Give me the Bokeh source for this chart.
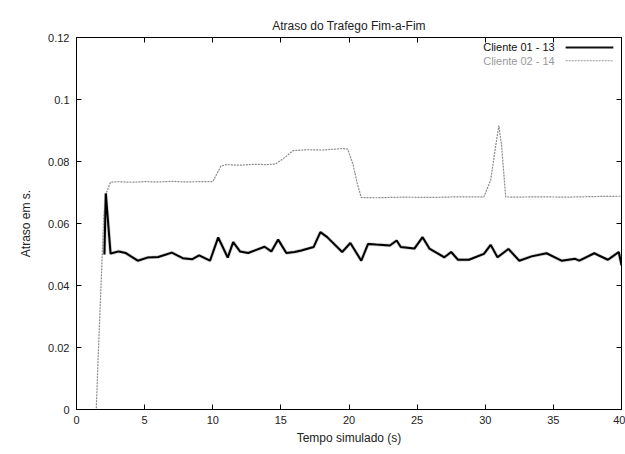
from bokeh.plotting import figure
from bokeh.models import Range1d, FixedTicker, LinearAxis, Label, Arrow
from bokeh.embed import file_html
from bokeh.resources import INLINE

# End-to-end delay per client pair (seconds) over simulated time
t_c2 = [0, 1.45, 1.6, 1.8, 2.0, 2.2, 2.5, 3, 4, 5, 6, 7, 8, 9, 10, 10.3, 10.6, 11, 12, 13, 14,
        14.6, 15.2, 15.9, 17, 18, 19, 19.5, 19.9, 20.3, 20.6, 20.9, 22, 24, 26, 28, 29.9,
        30.4, 30.8, 31.0, 31.2, 31.5, 32, 34, 36, 38, 40]
d_c2 = [0, 0, 0.018, 0.040, 0.062, 0.070, 0.0733, 0.0735, 0.0733, 0.0735, 0.0734, 0.0736,
        0.0734, 0.0735, 0.0735, 0.076, 0.0785, 0.079, 0.0788, 0.0791, 0.079, 0.0792, 0.081,
        0.0835, 0.0838, 0.0837, 0.084, 0.0842, 0.084, 0.079, 0.073, 0.0684, 0.0683, 0.0685,
        0.0684, 0.0686, 0.0686, 0.074, 0.086, 0.0916, 0.085, 0.0686, 0.0685, 0.0686, 0.0685,
        0.0687, 0.0688]

t_c1 = [2.05, 2.15, 2.5, 3.1, 3.6, 4.5, 5.2, 6, 7, 7.8, 8.5, 9.0, 9.8, 10.4,
        11.1, 11.5, 12, 12.6, 13.2, 13.8, 14.3, 14.8, 15.4, 16.0, 16.5, 17.4, 17.9, 18.4,
        19.5, 20.1, 20.9, 21.4, 22, 23, 23.5, 23.8, 24.8, 25.4, 25.9, 27, 27.5, 28, 28.8,
        29.9, 30.4, 30.9, 31.7, 32.5, 33.4, 34.5, 35.6, 36.6, 36.9, 38, 39, 39.8, 40]
d_c1 = [0.050, 0.0697, 0.0503, 0.051, 0.0505, 0.048, 0.049, 0.0492, 0.0506,
        0.0488, 0.0485, 0.0497, 0.048, 0.0555, 0.049, 0.054, 0.051, 0.0505, 0.0515, 0.0525,
        0.051, 0.0548, 0.0505, 0.0508, 0.0513, 0.0524, 0.0572, 0.0556, 0.0508, 0.0537,
        0.048, 0.0534, 0.0532, 0.0529, 0.0545, 0.0524, 0.0519, 0.0556, 0.0519, 0.0491,
        0.0508, 0.0483, 0.0483, 0.0502, 0.0531, 0.0491, 0.0518, 0.048, 0.0494, 0.0504,
        0.048, 0.0486, 0.048, 0.0504, 0.0483, 0.0508, 0.0465]

x_ticks = [0, 5, 10, 15, 20, 25, 30, 35, 40]
y_ticks = [0, 0.02, 0.04, 0.06, 0.08, 0.1, 0.12]
y_tick_labels = ["0", "0.02", "0.04", "0.06", "0.08", "0.1", "0.12"]

series_names = ["Cliente 01 - 13", "Cliente 02 - 14"]

FONT = "Liberation Sans"

p = figure(width=625, height=454, output_backend="svg", toolbar_location=None,
           x_range=Range1d(0, 40), y_range=Range1d(0, 0.12),
           title="Atraso do Trafego Fim-a-Fim",
           min_border_left=76, min_border_right=4, min_border_top=37, min_border_bottom=45)

p.title.align = "center"
p.title.text_font = FONT
p.title.text_font_size = "12px"
p.title.text_font_style = "normal"
p.title.text_color = "#222222"

p.grid.visible = False
p.outline_line_color = "black"
p.outline_line_width = 1
p.background_fill_color = "white"
p.border_fill_color = "white"

p.xaxis.ticker = FixedTicker(ticks=x_ticks)
p.yaxis.ticker = FixedTicker(ticks=y_ticks)
p.yaxis.major_label_overrides = {v: s for v, s in zip(y_ticks, y_tick_labels)}
p.xaxis.axis_label = "Tempo simulado (s)"
p.yaxis.axis_label = "Atraso em s."

for ax in (p.xaxis[0], p.yaxis[0]):
    ax.major_tick_in = 5
    ax.major_tick_out = 0
    ax.minor_tick_line_color = None
    ax.axis_line_color = "black"
    ax.major_tick_line_color = "black"
    ax.major_label_text_font = FONT
    ax.major_label_text_font_size = "11px"
    ax.major_label_text_color = "#222222"
    ax.axis_label_text_font = FONT
    ax.axis_label_text_font_size = "12px"
    ax.axis_label_text_font_style = "normal"
    ax.axis_label_text_color = "#222222"
p.xaxis.major_label_standoff = 6
p.xaxis.axis_label_standoff = 4
p.yaxis.major_label_standoff = 7
p.yaxis.axis_label_standoff = 12

# mirrored tick marks on the top and right edges (no labels)
for loc, ticks in (("above", x_ticks), ("right", y_ticks)):
    ax = LinearAxis(ticker=FixedTicker(ticks=ticks))
    ax.major_tick_in = 5
    ax.major_tick_out = 0
    ax.minor_tick_line_color = None
    ax.major_label_overrides = {v: "" for v in ticks}
    ax.major_label_standoff = 0
    ax.axis_line_color = "black"
    p.add_layout(ax, loc)

# series
p.line(t_c2, d_c2, line_color="#8a8a8a", line_width=1.2, line_dash="2 1")
p.line(t_c1, d_c1, line_color="#aaaaaa", line_width=3.4, line_alpha=0.6)
p.line(t_c1, d_c1, line_color="black", line_width=2.0)

# key in the top-right corner: text followed by line sample
key_rows = [(0.1168, "#111111", 2.0, None), (0.1125, "#999999", 1.2, "2 1")]
for name, (ky, col, lw, dash) in zip(series_names, key_rows):
    p.add_layout(Label(x=35.1, y=ky, text=name, text_align="right", text_baseline="middle",
                       text_font=FONT, text_font_size="11px", text_color=col))
    arr = Arrow(x_start=35.9, y_start=ky, x_end=39.4, y_end=ky, end=None,
                line_color=col, line_width=lw)
    if dash:
        arr.line_dash = dash
    p.add_layout(arr)

open("out.html", "w").write(file_html(p, INLINE))
